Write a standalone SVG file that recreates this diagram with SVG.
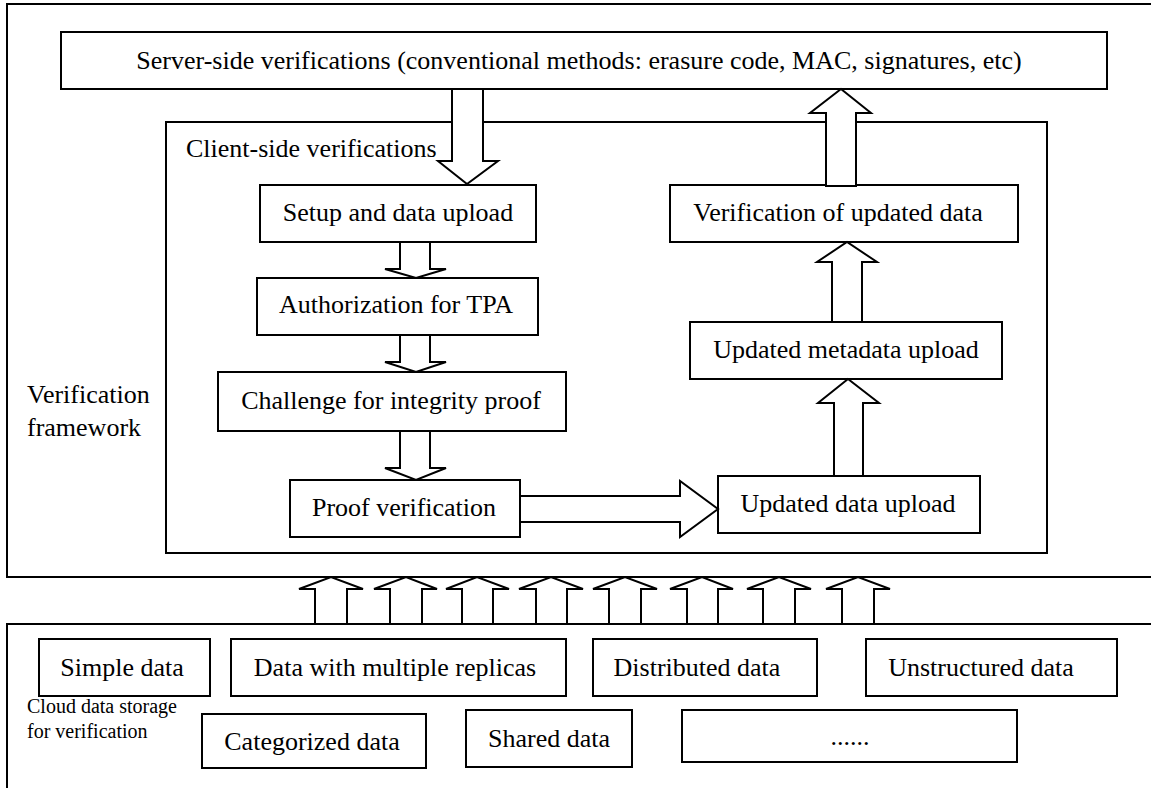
<svg xmlns="http://www.w3.org/2000/svg" width="1151" height="788" viewBox="0 0 1151 788">
<style>
.box{fill:#fff;stroke:#000;stroke-width:2}
.frame{fill:none;stroke:#000;stroke-width:2}
.arr{fill:#fff;stroke:#000;stroke-width:2;stroke-linejoin:miter}
text{font-family:'Liberation Serif','Times New Roman','DejaVu Serif',serif;fill:#000}
.t{font-size:26px;text-anchor:middle}
.lbl{font-size:26px}
.sm{font-size:20px}
</style>
<rect width="1151" height="788" fill="#fff"/>
<g font-family="Liberation Serif, Times New Roman, DejaVu Serif, serif">
<g id="verification-framework">
<rect class="frame" x="7" y="4" width="1160" height="573"/>
<text class="lbl" x="27" y="403">Verification</text>
<text class="lbl" x="27" y="436">framework</text>
</g>
<g id="server-side">
<rect class="box" x="61" y="32" width="1046" height="57"/>
<text class="t" x="579" y="69">Server-side verifications (conventional methods: erasure code, MAC, signatures, etc)</text>
</g>
<g id="client-side">
<rect class="frame" x="166" y="122" width="881" height="431"/>
<text class="lbl" x="186" y="157">Client-side verifications</text>
</g>
<g id="setup">
<rect class="box" x="260" y="185" width="276" height="57"/>
<text class="t" x="398" y="221">Setup and data upload</text>
</g>
<g id="authorization">
<rect class="box" x="257" y="278" width="281" height="57"/>
<text class="t" x="396" y="313">Authorization for TPA</text>
</g>
<g id="challenge">
<rect class="box" x="218" y="372" width="348" height="59"/>
<text class="t" x="391" y="409">Challenge for integrity proof</text>
</g>
<g id="proof">
<rect class="box" x="290" y="480" width="230" height="57"/>
<text class="t" x="404" y="516">Proof verification</text>
</g>
<g id="verification-updated">
<rect class="box" x="670" y="185" width="348" height="57"/>
<text class="t" x="838" y="221">Verification of updated data</text>
</g>
<g id="metadata-upload">
<rect class="box" x="690" y="322" width="312" height="57"/>
<text class="t" x="846" y="358">Updated metadata upload</text>
</g>
<g id="updated-data-upload">
<rect class="box" x="718" y="476" width="262" height="57"/>
<text class="t" x="848" y="512">Updated data upload</text>
</g>
<g id="cloud-storage">
<path class="frame" d="M7,800 V624 H1160"/>
<text class="sm" x="27" y="713">Cloud data storage</text>
<text class="sm" x="27" y="738">for verification</text>
</g>
<g id="simple-data">
<rect class="box" x="39" y="639" width="171" height="57"/>
<text class="t" x="122" y="676">Simple data</text>
</g>
<g id="replicas">
<rect class="box" x="231" y="639" width="335" height="57"/>
<text class="t" x="395" y="676">Data with multiple replicas</text>
</g>
<g id="distributed">
<rect class="box" x="593" y="639" width="224" height="57"/>
<text class="t" x="697" y="676">Distributed data</text>
</g>
<g id="unstructured">
<rect class="box" x="866" y="639" width="251" height="57"/>
<text class="t" x="981" y="676">Unstructured data</text>
</g>
<g id="categorized">
<rect class="box" x="202" y="714" width="224" height="54"/>
<text class="t" x="312" y="750">Categorized data</text>
</g>
<g id="shared">
<rect class="box" x="466" y="710" width="166" height="57"/>
<text class="t" x="549" y="747">Shared data</text>
</g>
<g id="more">
<rect class="box" x="682" y="710" width="335" height="52"/>
<text class="t" x="850" y="745">......</text>
</g>
</g>
<g id="connectors">
<polygon class="arr" points="452,89 483,89 483,161 498,161 467,184 438,161 452,161"/>
<polygon class="arr" points="826,186 856,186 856,113 871,113 841,89 810,113 826,113"/>
<polygon class="arr" points="400,242 430,242 430,269 446,269 416,278 385,269 400,269"/>
<polygon class="arr" points="400,335 430,335 430,362 446,362 416,372 385,362 400,362"/>
<polygon class="arr" points="400,431 430,431 430,468 446,468 416,480 385,468 400,468"/>
<polygon class="arr" points="520,496 680,496 680,481 718,509 680,537 680,522 520,522"/>
<polygon class="arr" points="834,476 863,476 863,403 879,403 848,379 818,403 834,403"/>
<polygon class="arr" points="832,322 862,322 862,262 877,262 847,242 817,262 832,262"/>
<polygon class="arr" points="315,624 347,624 347,589 363,589 331,577 299,589 315,589"/>
<polygon class="arr" points="390,624 422,624 422,589 437,589 406,577 374,589 390,589"/>
<polygon class="arr" points="462,624 493,624 493,589 509,589 477,577 446,589 462,589"/>
<polygon class="arr" points="536,624 567,624 567,589 583,589 551,577 519,589 536,589"/>
<polygon class="arr" points="609,624 641,624 641,589 657,589 625,577 593,589 609,589"/>
<polygon class="arr" points="687,624 718,624 718,589 733,589 702,577 670,589 687,589"/>
<polygon class="arr" points="763,624 795,624 795,589 811,589 779,577 747,589 763,589"/>
<polygon class="arr" points="842,624 874,624 874,589 890,589 858,577 826,589 842,589"/>
</g>
</svg>
